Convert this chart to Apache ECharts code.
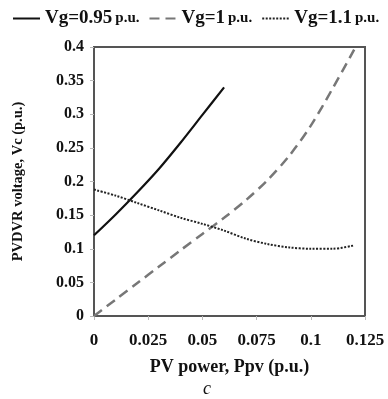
<!DOCTYPE html>
<html>
<head>
<meta charset="utf-8">
<script src="https://cdn.jsdelivr.net/npm/echarts@6/dist/echarts.min.js"></script>
<style>
  html, body { margin: 0; padding: 0; background: #fff; }
  #chart { width: 388px; height: 399px; }
</style>
</head>
<body>
<div id="chart"></div>
<script>
// PV power (p.u.)
const pvPower = [0, 0.01, 0.02, 0.03, 0.04, 0.05, 0.06, 0.07, 0.08, 0.09, 0.1, 0.11, 0.12];
// PVDVR voltage for each grid voltage
const vg095 = [0.12, 0.151, 0.184, 0.219, 0.258, 0.299, 0.34];
const vg1 = [0, 0.0245, 0.049, 0.0735, 0.098, 0.122, 0.146, 0.172, 0.202, 0.238, 0.283, 0.338, 0.396];
const vg11 = [0.188, 0.179, 0.168, 0.157, 0.146, 0.137, 0.127, 0.115, 0.107, 0.102, 0.1, 0.1, 0.105];
const seriesNames = ['Vg=0.95 p.u.', 'Vg=1 p.u.', 'Vg=1.1 p.u.'];

const pairs = ys => ys.map((v, i) => [pvPower[i], v]);
const font = '"Liberation Serif", "Times New Roman", serif';
const labelStyle = { fontFamily: font, fontWeight: 'bold', color: '#111' };

const chart = echarts.init(document.getElementById('chart'));
chart.setOption({
  animation: false,
  grid: { left: 94, right: 23, top: 47, bottom: 83, show: true, borderColor: '#555', borderWidth: 2 },
  legend: {
    top: 9, left: 12, width: 388, padding: 0, itemGap: 9, itemWidth: 27, itemHeight: 10,
    itemStyle: { opacity: 0 },
    formatter: n => '{a|' + n.replace(' p.u.', '') + '} {b|p.u.}',
    textStyle: {
      ...labelStyle,
      rich: {
        a: { ...labelStyle, fontSize: 19 },
        b: { ...labelStyle, fontSize: 15 }
      }
    },
    data: seriesNames
  },
  xAxis: {
    type: 'value', min: 0, max: 0.125, interval: 0.025,
    name: 'PV power, Ppv (p.u.)', nameLocation: 'middle', nameGap: 42,
    nameTextStyle: { ...labelStyle, fontSize: 18 },
    axisLine: { lineStyle: { color: '#555', width: 2 } },
    axisTick: { show: true, length: 4, lineStyle: { color: '#bbb' } },
    splitLine: { show: false },
    axisLabel: { ...labelStyle, fontSize: 17, margin: 16,
      formatter: v => String(+v.toFixed(3)) }
  },
  yAxis: {
    type: 'value', min: 0, max: 0.4, interval: 0.05,
    name: 'PVDVR voltage, Vc (p.u.)', nameLocation: 'middle', nameGap: 68,
    nameTextStyle: { ...labelStyle, fontSize: 14.5 },
    axisLine: { show: true, lineStyle: { color: '#555', width: 2 } },
    axisTick: { show: true, length: 4, lineStyle: { color: '#bbb' } },
    splitLine: { show: false },
    axisLabel: { ...labelStyle, fontSize: 16, margin: 10,
      formatter: v => String(+v.toFixed(2)) }
  },
  graphic: [{
    type: 'text', left: 203, top: 380,
    style: { text: 'c', font: 'italic 18px ' + font, fill: '#111' }
  }],
  series: [
    { name: seriesNames[0], type: 'line', data: pairs(vg095), smooth: 0.3, symbol: 'none',
      lineStyle: { color: '#111', width: 2.2 }, itemStyle: { color: '#111' } },
    { name: seriesNames[1], type: 'line', data: pairs(vg1), smooth: 0.3, symbol: 'none',
      lineStyle: { color: '#777', width: 2.5, type: [10, 6] }, itemStyle: { color: '#777' } },
    { name: seriesNames[2], type: 'line', data: pairs(vg11), smooth: 0.3, symbol: 'none',
      lineStyle: { color: '#222', width: 2, type: [2, 1.5] }, itemStyle: { color: '#222' } }
  ]
});
</script>
</body>
</html>
